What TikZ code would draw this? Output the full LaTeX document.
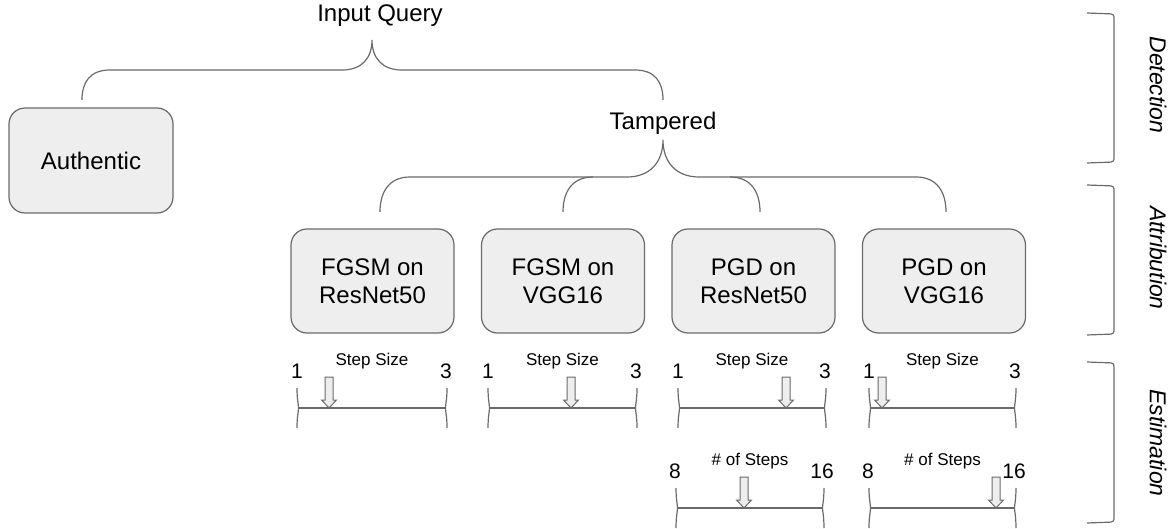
\documentclass[tikz,border=0pt]{standalone}
\usepackage{fontspec}
\setmainfont{Liberation Sans}
\definecolor{boxfill}{HTML}{EEEEEE}
\definecolor{boxline}{HTML}{6A6A6A}
\definecolor{lineg}{HTML}{6A6A6A}
\begin{document}
\begin{tikzpicture}[x=1pt,y=-1pt,
  box/.style={draw=boxline, fill=boxfill, rounded corners=16pt, line width=1.2pt,
    minimum width=163pt, minimum height=104pt, align=center, inner sep=0pt,
    font=\fontsize{24}{28}\selectfont},
  br/.style={draw=lineg, line width=1.2pt},
  lbl/.style={font=\fontsize{24}{28}\selectfont, inner sep=0pt},
  small/.style={font=\fontsize{17}{20}\selectfont, inner sep=0pt},
  num/.style={font=\fontsize{21}{24}\selectfont, inner sep=0pt},
  side/.style={font=\fontsize{23}{26}\selectfont\itshape, rotate=-90, inner sep=0pt},
  harr/.style={draw=lineg, fill=boxfill, line width=1pt, line join=miter},
  tick/.style={draw=lineg, line width=1.2pt},
]
\useasboundingbox (0,0) rectangle (1172,529);

% top level
\node[lbl] (iq) at (380,16) {Input Query};
\node[box, minimum width=164pt, minimum height=105pt] (auth) at (91,160.5) {Authentic};
\node[lbl] (tamp) at (663,123) {Tampered};

% top brace
\coordinate (tipA) at (372,40);
\draw[br] (82,100) .. controls (82,82) and (90,70) .. (110,70)
  -- (342,70) .. controls (362,70) and (372,58) .. (tipA)
  .. controls (372,58) and (382,70) .. (402,70)
  -- (635,70) .. controls (655,70) and (663,82) .. (663,100);

% attack boxes
\node[box] (b1) at (372.5,281) {FGSM on\\ResNet50};
\node[box] (b2) at (563,281) {FGSM on\\VGG16};
\node[box] (b3) at (753.5,281) {PGD on\\ResNet50};
\node[box] (b4) at (944,281) {PGD on\\VGG16};

% second brace
\coordinate (tipT) at (663,140);
\draw[br] (380,212) .. controls (380,192) and (389,177) .. (410,177)
  -- (627,177) .. controls (650,177) and (663,162) .. (tipT)
  .. controls (663,162) and (676,177) .. (699,177)
  -- (916,177) .. controls (937,177) and (946,192) .. (946,212);
\draw[br] (563,212) .. controls (563,192) and (572,177) .. (593,177);
\draw[br] (760,212) .. controls (760,192) and (751,177) .. (730,177);

% scales: step size
\foreach \i/\a/\b/\p in {1/297/447/329, 2/488/637/571, 3/678/826/786, 4/869/1016/882}{
  \pgfmathsetmacro{\c}{(\a+\b)/2}
  \node[small] (ss\i) at (\c,361) {Step Size};
  \node[num] (sl\i) at (\a,371) {1};
  \node[num] (sr\i) at (\b-1,371) {3};
  \draw[tick] (\a,388) .. controls (\a,400) and (\a+1.5,404) .. (\a+1.5,408)
     .. controls (\a+1.5,412) and (\a,416) .. (\a,428);
  \draw[tick] (\b,388) .. controls (\b,400) and (\b-1.5,404) .. (\b-1.5,408)
     .. controls (\b-1.5,412) and (\b,416) .. (\b,428);
  \draw[tick] (\a+1.5,408) -- (\b-1.5,408);
  \draw[harr] (\p-4,377) -- (\p+4,377) -- (\p+4,400) -- (\p+7.5,400) -- (\p,408)
    -- (\p-7.5,400) -- (\p-4,400) -- cycle;
}
% scales: number of steps
\foreach \i/\a/\b/\p in {3/676/824/744, 4/869/1016/996}{
  \pgfmathsetmacro{\c}{(\a+\b)/2}
  \node[small] (ns\i) at (\c,461) {\# of Steps};
  \node[num] (nl\i) at (\a-1,471) {8};
  \node[num] (nr\i) at (\b-2,471) {16};
  \draw[tick] (\a,488) .. controls (\a,500) and (\a+1.5,504) .. (\a+1.5,508)
     .. controls (\a+1.5,512) and (\a,516) .. (\a,528);
  \draw[tick] (\b,488) .. controls (\b,500) and (\b-1.5,504) .. (\b-1.5,508)
     .. controls (\b-1.5,512) and (\b,516) .. (\b,528);
  \draw[tick] (\a+1.5,508) -- (\b-1.5,508);
  \draw[harr] (\p-4,477) -- (\p+4,477) -- (\p+4,500) -- (\p+7.5,500) -- (\p,508)
    -- (\p-7.5,500) -- (\p-4,500) -- cycle;
}

% side brackets
\draw[br, rounded corners=3pt] (1087,13) -- (1114,14) -- (1114,162) -- (1087,163);
\draw[br, rounded corners=3pt] (1087,185) -- (1114,186) -- (1114,334) -- (1087,335);
\draw[br, rounded corners=3pt] (1087,362) -- (1114,363) -- (1114,522) -- (1087,523);
\node[side] (det) at (1158,85) {Detection};
\node[side] (att) at (1158,258) {Attribution};
\node[side] (est) at (1158,443) {Estimation};
\end{tikzpicture}
\end{document}
